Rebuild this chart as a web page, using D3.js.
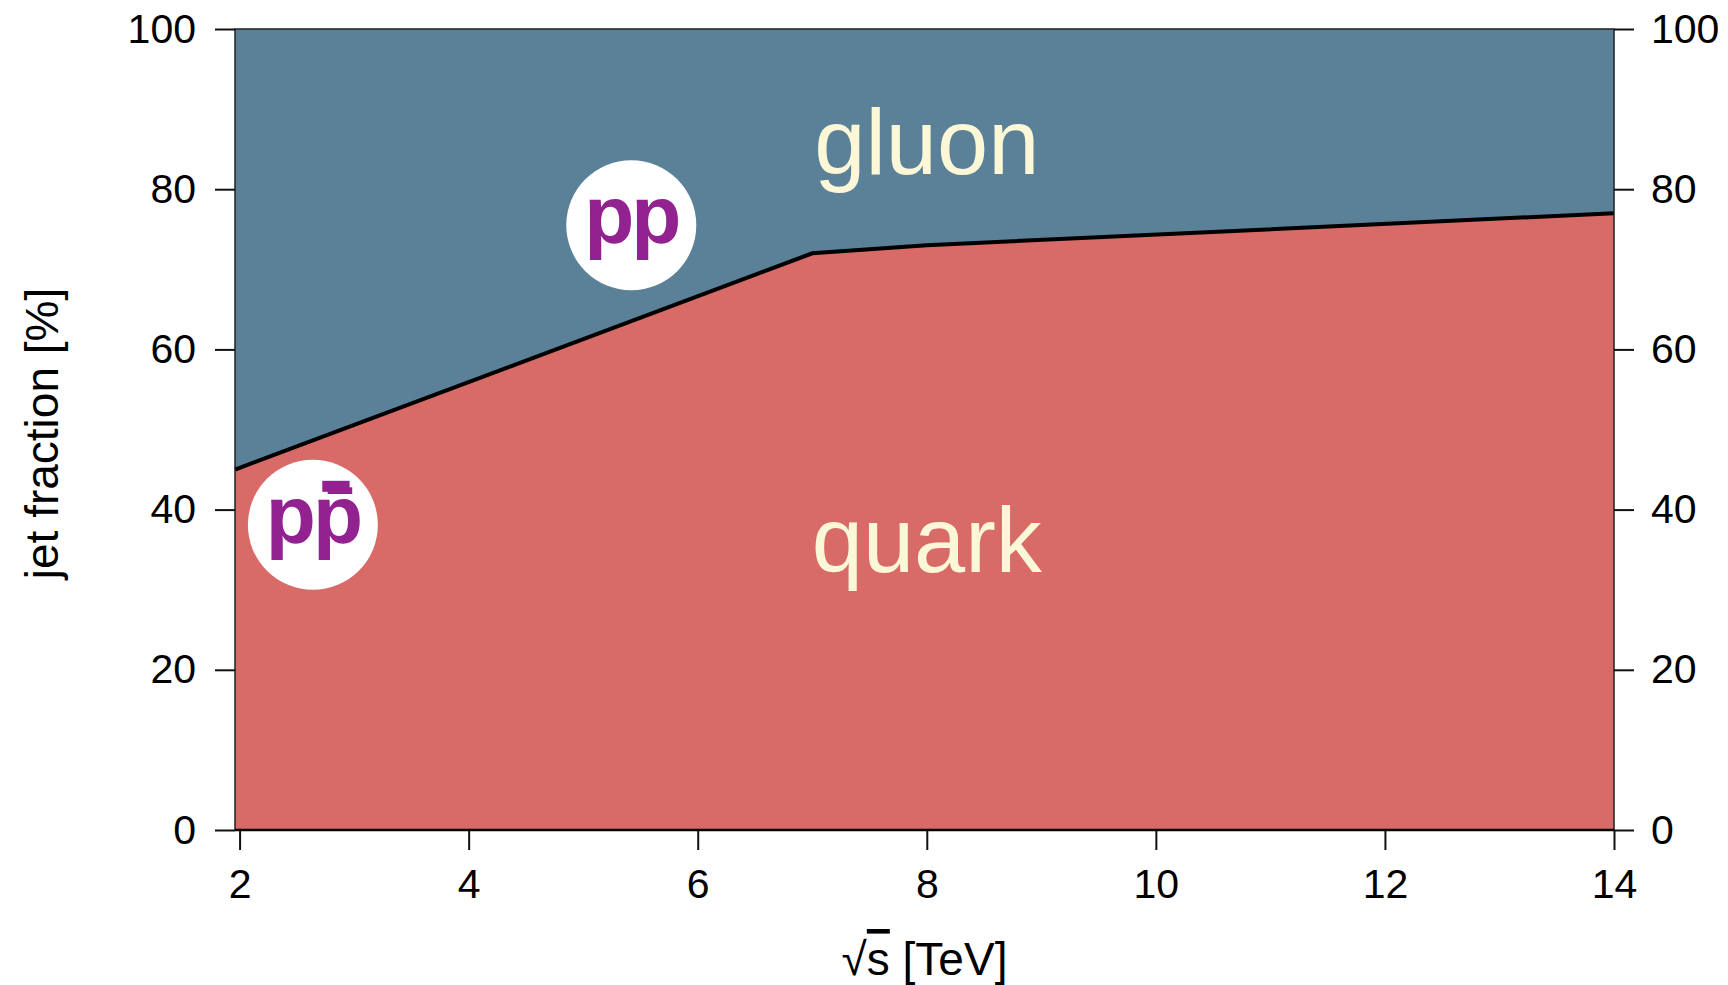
<!DOCTYPE html>
<html>
<head>
<meta charset="utf-8">
<script src="https://cdn.jsdelivr.net/npm/d3@7"></script>
<style>
  body { margin: 0; background: #fff; }
  text { font-family: "Liberation Sans", Arial, Helvetica, sans-serif; }
</style>
</head>
<body>
<div id="chart"></div>
<script>
// collision energy (TeV) and quark jet fraction (%)
const energies = [1.96, 7, 8, 14];
const quarkFrac = [45, 72, 73, 77];
const xTicks = [2, 4, 6, 8, 10, 12, 14];
const yTicks = [0, 20, 40, 60, 80, 100];
// collider markers: label, energy, fraction
const markers = [
    { label: 'pp', x: 5.42, y: 75.5, anti: false },
    { label: 'pp\u0304', x: 2.64, y: 38.1, anti: true }
];

const width = 1728;
const height = 985;
const margin = { top: 29, right: 114, bottom: 155, left: 235 };

const svg = d3.select('#chart').append('svg')
    .attr('width', width)
    .attr('height', height);

const x = d3.scaleLinear()
    .domain([1.96, 14])
    .range([margin.left, width - margin.right]);

const y = d3.scaleLinear()
    .domain([0, 100])
    .range([height - margin.bottom, margin.top]);

const data = energies.map((e, i) => ({ e: e, q: quarkFrac[i] }));

// gluon = everything above the quark fraction
svg.append('path')
    .datum(data)
    .attr('fill', '#5b8199')
    .attr('d', d3.area().x(d => x(d.e)).y0(y(100)).y1(d => y(d.q)));

svg.append('path')
    .datum(data)
    .attr('fill', '#d86a67')
    .attr('d', d3.area().x(d => x(d.e)).y0(y(0)).y1(d => y(d.q)));

svg.append('path')
    .datum(data)
    .attr('fill', 'none')
    .attr('stroke', '#000')
    .attr('stroke-width', 4)
    .attr('d', d3.line().x(d => x(d.e)).y(d => y(d.q)));

// frame
svg.append('rect')
    .attr('x', x(1.96)).attr('y', y(100))
    .attr('width', x(14) - x(1.96)).attr('height', y(0) - y(100))
    .attr('fill', 'none').attr('stroke', '#222').attr('stroke-width', 1.5);
svg.append('line')
    .attr('x1', x(1.96)).attr('x2', x(14))
    .attr('y1', y(0)).attr('y2', y(0))
    .attr('stroke', '#000').attr('stroke-width', 2.5);

const tickFont = '41px';
const titleFont = '46px';

const styleAxis = g => {
    g.select('.domain').remove();
    g.selectAll('.tick line').attr('stroke', '#111').attr('stroke-width', 2);
    g.selectAll('.tick text').attr('fill', '#000').style('font-size', tickFont);
};

svg.append('g')
    .attr('transform', 'translate(' + x(1.96) + ',0)')
    .call(d3.axisLeft(y).tickValues(yTicks).tickSize(20).tickPadding(19))
    .call(styleAxis);

svg.append('g')
    .attr('transform', 'translate(' + x(14) + ',0)')
    .call(d3.axisRight(y).tickValues(yTicks).tickSize(20).tickPadding(17))
    .call(styleAxis);

svg.append('g')
    .attr('transform', 'translate(0,' + y(0) + ')')
    .call(d3.axisBottom(x).tickValues(xTicks).tickSize(20).tickPadding(19))
    .call(styleAxis);

// axis titles
svg.append('text')
    .attr('transform', 'translate(58,' + ((y(0) + y(100)) / 2 + 4) + ') rotate(-90)')
    .attr('text-anchor', 'middle')
    .style('font-size', titleFont)
    .text('jet fraction [%]');

const xt = svg.append('text')
    .attr('x', (x(1.96) + x(14)) / 2)
    .attr('y', 975)
    .attr('text-anchor', 'middle')
    .style('font-size', titleFont);
xt.append('tspan').text('\u221A');
xt.append('tspan').style('text-decoration', 'overline').text('s');
xt.append('tspan').text(' [TeV]');

// region labels
svg.append('text')
    .attr('x', x(8.0)).attr('y', 174)
    .attr('text-anchor', 'middle')
    .attr('fill', '#fcf7d6')
    .style('font-size', '92px')
    .text('gluon');

svg.append('text')
    .attr('x', x(8.0)).attr('y', 572)
    .attr('text-anchor', 'middle')
    .attr('fill', '#fcf7d6')
    .style('font-size', '92px')
    .text('quark');

// collider markers
const m = svg.selectAll('.marker')
    .data(markers)
    .enter().append('g')
    .attr('transform', d => 'translate(' + x(d.x) + ',' + y(d.y) + ')');

m.append('circle')
    .attr('r', 65)
    .attr('fill', '#fff');

m.append('text')
    .attr('y', 18)
    .attr('text-anchor', 'middle')
    .attr('fill', '#922290')
    .style('font-size', '82px')
    .style('font-weight', 'bold')
    .style('letter-spacing', '-3px')
    .text(d => d.label)
    .each(function(d) {
        if (!d.anti) return;
        // thicker bar over the antiproton p
        const s = this.getStartPositionOfChar(1);
        const e = this.getEndPositionOfChar(1);
        const w = e.x - s.x;
        d3.select(this.parentNode).append('rect')
            .attr('x', s.x + w * 0.2)
            .attr('y', -44)
            .attr('width', w * 0.58)
            .attr('height', 11)
            .attr('fill', '#922290');
    });
</script>
</body>
</html>
